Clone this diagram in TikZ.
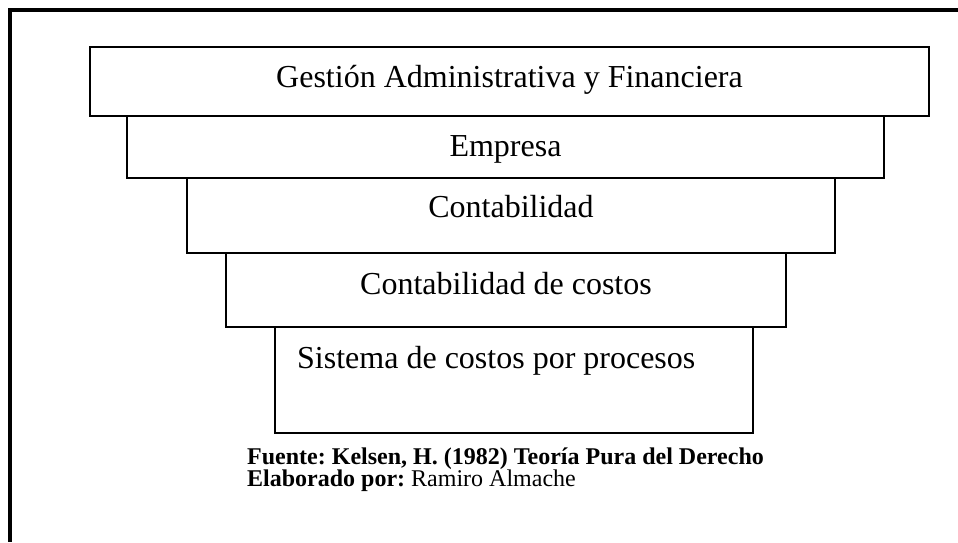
\documentclass[tikz,border=0pt]{standalone}
\usepackage{fontspec}
\setmainfont{Liberation Serif}
\usetikzlibrary{positioning}
\frenchspacing

\tikzset{
  nivel/.style={draw, line width=1.5pt, fill=white},
  titulo/.style={anchor=base, inner sep=0pt, font=\fontsize{32}{38}\selectfont},
  pie/.style={anchor=base west, inner sep=0pt, font=\fontsize{24}{22}\selectfont}
}

\begin{document}
\begin{tikzpicture}[x=1pt, y=-1pt]
    \useasboundingbox (0,0) rectangle (958,542);
    % marco exterior
    \draw[line width=3.5pt] (958,10) -- (10,10) -- (10,542);

    % niveles
    \draw[nivel] (90,47) rectangle (929,116);
    \node[titulo] (gestion) at (509.5,87) {Gestión Administrativa y Financiera};

    \draw[nivel] (127,116) rectangle (884,178);
    \node[titulo] (empresa) at (505.5,156) {Empresa};

    \draw[nivel] (187,178) rectangle (835,253);
    \node[titulo] (contab) at (511,217) {Contabilidad};

    \draw[nivel] (226,253) rectangle (786,327);
    \node[titulo] (costos) at (506,294) {Contabilidad de costos};

    \draw[nivel] (275,327) rectangle (753,433);
    \node[titulo, anchor=base west] (procesos) at (297,368) {Sistema de costos por procesos};

    % fuente
    \node[pie] (fuente) at (247,464) {\textbf{Fuente: Kelsen, H. (1982) Teoría Pura del Derecho}};
    \node[pie] (elaborado) at (247,486) {\textbf{Elaborado por:} Ramiro Almache};
\end{tikzpicture}
\end{document}
